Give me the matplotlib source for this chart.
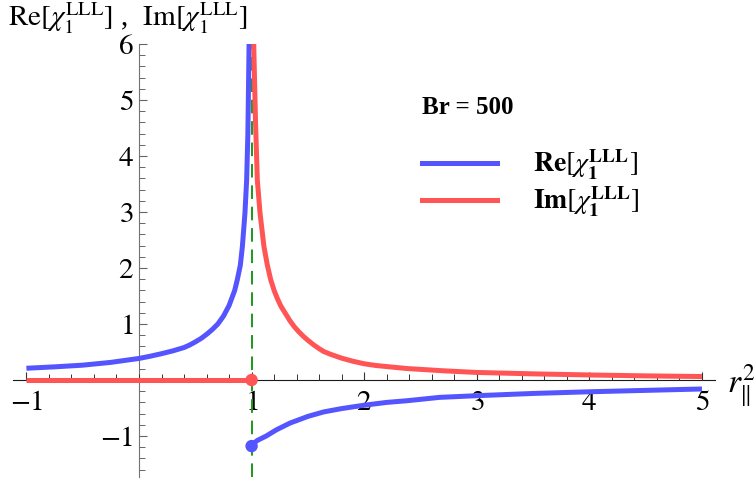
import matplotlib
matplotlib.use("Agg")
import matplotlib.pyplot as plt
from matplotlib.ticker import MultipleLocator, FixedLocator
from matplotlib.lines import Line2D

plt.rcParams['font.family'] = ['Liberation Serif', 'DejaVu Serif']
plt.rcParams['mathtext.fontset'] = 'stix'

# Re part below the resonance (x < 1)
re_x_lo = [-1.0, -0.75, -0.5, -0.25, 0.0, 0.1, 0.2, 0.3, 0.4, 0.45, 0.5, 0.55, 0.6, 0.65, 0.7,
           0.75, 0.8, 0.85, 0.873, 0.9, 0.918, 0.941, 0.956, 0.967, 0.977, 0.985]
re_y_lo = [0.21, 0.235, 0.265, 0.315, 0.385, 0.425, 0.47, 0.52, 0.58, 0.625, 0.68, 0.74, 0.815,
           0.90, 1.00, 1.14, 1.33, 1.60, 1.79, 2.05, 2.38, 2.98, 3.57, 4.40, 5.90, 7.50]

# Re part above the resonance (x > 1)
re_x_hi = [1.0, 1.005, 1.02, 1.05, 1.09, 1.13, 1.22, 1.34, 1.5, 1.64, 1.8, 2.0, 2.2, 2.38,
           2.67, 3.0, 3.5, 4.0, 4.5, 5.0]
re_y_hi = [-1.18, -1.165, -1.13, -1.08, -1.04, -1.0, -0.89, -0.77, -0.65, -0.57, -0.51, -0.45,
           -0.40, -0.37, -0.31, -0.28, -0.24, -0.21, -0.185, -0.16]

# Im part: zero below, decaying tail above
im_x_lo = [-1.0, 1.0]
im_y_lo = [0.0, 0.0]
im_x_hi = [1.01, 1.02, 1.035, 1.051, 1.075, 1.11, 1.14, 1.17, 1.20, 1.23, 1.26, 1.30, 1.34,
           1.38, 1.42, 1.46, 1.50, 1.55, 1.60, 1.64, 1.70, 1.8, 1.9, 2.0, 2.1, 2.2, 2.38, 2.7,
           3.0, 3.5, 4.0, 4.5, 5.0]
im_y_hi = [8.0, 5.9, 4.6, 3.57, 2.98, 2.38, 2.05, 1.79, 1.60, 1.45, 1.32, 1.19, 1.06,
           0.95, 0.86, 0.78, 0.71, 0.63, 0.56, 0.51, 0.46, 0.39, 0.335, 0.29, 0.26, 0.24, 0.205,
           0.165, 0.135, 0.11, 0.09, 0.074, 0.062]

# endpoint dots at the resonance
dot_x = [1.0, 1.0]
dot_y = [-1.18, 0.0]

x_ticks = [-1, 1, 2, 3, 4, 5]
y_ticks = [-1, 1, 2, 3, 4, 5, 6]

blue = '#5555ff'
red = '#ff5555'

fig = plt.figure(figsize=(7.54, 4.82), dpi=100)
ax = fig.add_axes([0.0171, 0.0106, 0.9318, 0.8981])
ax.set_xlim(-1.12, 5.12)
ax.set_ylim(-1.73, 6.0)

for s in ['top', 'right']:
    ax.spines[s].set_visible(False)
ax.spines['left'].set_position(('data', 0))
ax.spines['bottom'].set_position(('data', 0))
ax.spines['left'].set_color('0.45')
ax.spines['bottom'].set_color('0.1')
ax.spines['left'].set_zorder(1)
ax.spines['bottom'].set_zorder(1)

ax.axvline(1.0, color='#1a9a1a', lw=1.4, dashes=(7, 4), zorder=2)

lw = 3.6
ax.plot(re_x_lo, re_y_lo, color=blue, lw=lw, solid_capstyle='butt', zorder=3)
ax.plot(re_x_hi, re_y_hi, color=blue, lw=lw, solid_capstyle='butt', zorder=3)
ax.plot(im_x_lo, im_y_lo, color=red, lw=lw, solid_capstyle='butt', zorder=3)
ax.plot(im_x_hi, im_y_hi, color=red, lw=lw, solid_capstyle='butt', zorder=3)
ax.scatter(dot_x, dot_y, s=80, c=[blue, red], zorder=4, linewidths=0)

ax.xaxis.set_major_locator(FixedLocator(x_ticks))
ax.yaxis.set_major_locator(FixedLocator(y_ticks))
ax.xaxis.set_minor_locator(MultipleLocator(0.2))
ax.yaxis.set_minor_locator(MultipleLocator(0.2))
ax.set_xticklabels(['$%d$' % t for t in x_ticks], fontsize=21)
ax.set_yticklabels(['$%d$' % t for t in y_ticks], fontsize=21)
ax.tick_params(axis='both', which='both', direction='in')
ax.tick_params(axis='x', which='major', length=6, width=0.8, pad=7, color='0.2')
ax.tick_params(axis='x', which='minor', length=4, width=0.7, color='0.2')
ax.tick_params(axis='y', which='major', length=6, width=0.8, pad=4, color='0.4')
ax.tick_params(axis='y', which='minor', length=4, width=0.7, color='0.4')

fig.text(8 / 754, 1 - 1 / 482,
         r'$\mathrm{Re}[\chi_1^{\mathrm{LLL}}]$ ,  $\mathrm{Im}[\chi_1^{\mathrm{LLL}}]$',
         fontsize=21, ha='left', va='top')
fig.text(727 / 754, 1 - 386 / 482, r'$r_{\Vert}^{2}$', fontsize=24, ha='left', va='center')

handles = [Line2D([], [], color=blue, lw=lw), Line2D([], [], color=red, lw=lw)]
labels = [r'$\mathbf{Re}[\chi_\mathbf{1}^{\mathbf{LLL}}]$',
          r'$\mathbf{Im}[\chi_\mathbf{1}^{\mathbf{LLL}}]$']
leg = ax.legend(handles, labels, title='Br = 500', loc='upper left',
                bbox_to_anchor=(397 / 754, 1 - 71 / 482), bbox_transform=fig.transFigure,
                frameon=False, fontsize=20, handlelength=2.7, handletextpad=1.3,
                labelspacing=0.1, alignment='left',
                title_fontproperties={'weight': 'bold', 'size': 18})
leg._legend_box.sep = 21

fig.savefig('out.png', dpi=100)
